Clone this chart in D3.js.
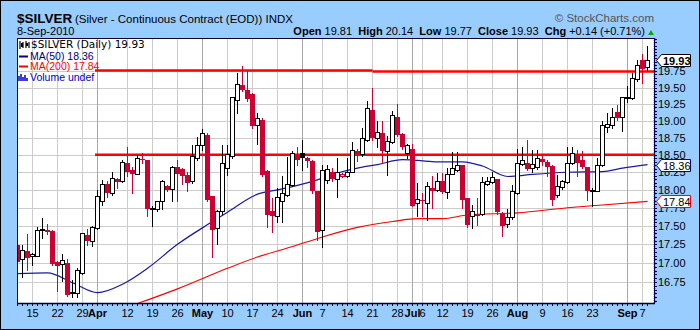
<!DOCTYPE html>
<html>
<head>
<meta charset="utf-8">
<script src="https://cdn.jsdelivr.net/npm/d3@7"></script>
<style>
body { margin: 0; background: #fff; }
svg { display: block; font-family: "Liberation Sans", Arial, sans-serif; }
</style>
</head>
<body>
<div id="chart"></div>
<script>
// daily candles, 10-Mar-2010 .. 8-Sep-2010 (one entry per trading day)
var opens = [17.24,17.05,17.16,17.10,17.10,17.44,17.45,17.43,17.01,16.99,17.00,16.60,16.60,16.87,17.38,17.29,17.47,17.85,18.09,17.96,
  18.16,18.12,18.38,18.28,18.23,18.44,18.42,17.73,17.74,17.84,18.06,18.01,18.32,18.29,18.21,18.12,18.45,18.64,18.79,17.91,
  17.47,17.70,18.31,18.48,19.31,19.54,19.47,19.40,18.94,19.01,18.27,17.70,17.63,17.85,17.93,18.07,18.50,18.52,18.46,18.41,
  17.98,17.44,18.14,18.26,18.16,18.20,18.19,18.26,18.56,18.51,18.72,19.16,18.74,18.82,18.55,18.69,19.06,18.80,18.53,18.59,
  17.81,17.86,17.81,18.02,18.00,18.12,17.97,18.23,18.28,18.35,17.88,17.63,17.67,17.67,18.09,18.11,18.15,17.67,17.53,17.62,
  17.95,18.37,18.38,18.31,18.32,18.44,18.40,18.34,17.93,18.04,18.11,18.38,18.50,18.42,18.32,17.99,17.99,18.35,18.91,18.94,
  19.13,19.05,19.34,19.34,19.63,19.92,19.81];
var highs = [17.26,17.24,17.39,17.13,17.48,17.61,17.53,17.44,17.03,17.12,17.06,16.78,16.93,17.41,17.46,17.50,18.00,18.14,18.12,18.25,
  18.17,18.43,18.62,18.33,18.50,18.52,18.43,17.78,17.85,18.14,18.07,18.34,18.43,18.31,18.26,18.64,18.76,18.88,18.82,17.91,
  17.72,18.64,18.64,19.36,19.72,19.83,19.75,19.41,19.12,19.04,18.28,17.89,18.02,18.20,18.47,18.55,18.62,18.72,18.47,18.42,
  17.99,18.36,18.36,18.31,18.45,18.24,18.45,18.69,18.59,18.89,19.29,19.49,18.99,18.99,18.77,19.15,19.25,18.82,18.66,18.66,
  18.10,17.95,18.11,18.19,18.24,18.24,18.31,18.54,18.54,18.36,17.89,17.79,17.88,18.18,18.18,18.26,18.16,17.69,17.74,18.07,
  18.59,18.61,18.71,18.57,18.57,18.50,18.43,18.36,18.21,18.14,18.62,18.62,18.57,18.55,18.33,18.02,18.46,18.99,19.12,19.19,
  19.24,19.36,19.52,19.72,19.93,20.02,20.14];
var lows = [17.00,16.82,16.91,16.98,17.09,17.34,17.39,16.98,16.63,16.76,16.57,16.56,16.56,16.86,17.24,17.23,17.46,17.79,17.90,17.93,
  18.02,18.11,18.20,17.95,18.22,18.38,17.63,17.50,17.70,17.73,17.98,17.85,17.84,18.09,17.98,18.10,18.43,18.57,17.84,17.08,
  17.26,17.67,18.21,18.46,19.11,19.44,19.29,18.90,18.66,18.19,17.49,17.42,17.56,17.56,17.92,18.05,18.36,18.28,18.33,17.95,
  17.31,17.22,18.10,18.12,17.90,18.18,18.18,18.25,18.41,18.49,18.70,18.72,18.62,18.38,18.21,18.67,18.77,18.59,18.45,17.77,
  17.63,17.63,17.58,17.75,17.98,17.95,17.88,18.22,18.27,17.75,17.49,17.47,17.51,17.65,18.07,18.10,17.67,17.36,17.49,17.60,
  17.94,18.35,18.28,18.26,18.30,18.36,18.20,17.79,17.90,18.01,18.10,18.37,18.19,18.31,17.86,17.77,17.98,18.34,18.84,18.89,
  19.01,18.85,19.28,19.32,19.60,19.57,19.77];
var closes = [17.02,17.18,17.07,17.12,17.45,17.46,17.42,16.99,16.96,17.04,16.58,16.62,16.91,17.40,17.30,17.49,17.92,18.09,17.96,18.17,
  18.11,18.40,18.25,18.23,18.46,18.42,17.74,17.75,17.84,18.12,18.00,18.33,18.23,18.19,18.10,18.49,18.64,18.82,17.86,17.45,
  17.70,18.38,18.51,19.35,19.56,19.47,19.33,18.92,19.04,18.21,17.65,17.63,17.90,17.95,18.08,18.52,18.42,18.46,18.41,17.98,
  17.42,18.28,18.30,18.16,18.25,18.22,18.26,18.57,18.51,18.74,19.19,18.74,18.84,18.55,18.70,19.09,18.79,18.62,18.64,17.78,
  17.87,17.84,18.05,17.98,18.12,17.97,18.23,18.31,18.36,17.86,17.51,17.70,17.64,18.11,18.12,18.18,17.69,17.50,17.62,17.98,
  18.38,18.42,18.30,18.37,18.46,18.40,18.33,17.86,18.05,18.12,18.38,18.53,18.38,18.32,17.99,18.00,18.35,18.94,18.95,19.06,
  19.04,19.35,19.36,19.65,19.85,19.79,19.93];

// moving averages read at some days (day index, value)
var ma50Days = [0, 6, 11, 16, 21, 26, 32, 39, 42, 48, 52, 59, 64, 68, 72, 77, 80, 84, 89, 93, 98, 103, 110, 117, 121, 126];
var ma50Vals = [16.86, 16.87, 16.74, 16.61, 16.72, 16.93, 17.25, 17.56, 17.69, 17.94, 18.00, 18.12, 18.24, 18.31, 18.36, 18.43, 18.42, 18.40, 18.40, 18.34, 18.19, 18.22, 18.25, 18.26, 18.31, 18.36];
var ma200Days = [20, 32, 42, 48, 55, 61, 68, 75, 80, 85, 90, 100, 110, 117, 126];
var ma200Vals = [16.38, 16.66, 16.93, 17.08, 17.22, 17.35, 17.48, 17.56, 17.60, 17.60, 17.65, 17.68, 17.75, 17.79, 17.84];

// hand drawn horizontal lines (start day, end day, price)
var trendStart = [15.5, 71, 15.5];
var trendEnd = [71, 128, 128];
var trendPrice = [19.76, 19.745, 18.50];

var firstDay = new Date(2010, 2, 10), lastDay = new Date(2010, 8, 8);
var holidays = ["2010-04-02", "2010-05-31", "2010-07-05", "2010-09-06"];

var yTicks = [16.75, 17.00, 17.25, 17.50, 17.75, 18.00, 18.25, 18.50, 18.75, 19.00, 19.25, 19.50, 19.75];
var xTickDates = ["2010-03-15","2010-03-22","2010-03-29","2010-04-01","2010-04-12","2010-04-19","2010-04-26","2010-05-03","2010-05-10",
  "2010-05-17","2010-05-24","2010-06-01","2010-06-07","2010-06-14","2010-06-21","2010-06-28","2010-07-01","2010-07-06","2010-07-12",
  "2010-07-19","2010-07-26","2010-08-02","2010-08-09","2010-08-16","2010-08-23","2010-09-01","2010-09-07"];
var xTickLabels = ["15","22","29","Apr","12","19","26","May","10","17","24","Jun","7","14","21","28","Jul","6","12","19","26","Aug","9","16","23","Sep","7"];

var lastClose = 19.93, ma50Last = 18.36, ma200Last = 17.84;

var w = 700, h = 330;
var pLeft = 17, pTop = 38, pRight = 655, pBottom = 304;

var fmt = d3.timeFormat("%Y-%m-%d");
var days = d3.timeDay.range(firstDay, d3.timeDay.offset(lastDay, 1)).filter(function(d) {
    return d.getDay() != 0 && d.getDay() != 6 && holidays.indexOf(fmt(d)) < 0;
});
var dayIndex = {};
days.forEach(function(d, i) { dayIndex[fmt(d)] = i; });

var svg = d3.select("#chart")
    .append("svg")
    .attr("width", w)
    .attr("height", h);

// blue frame
svg.append("rect")
    .attr("x", 0.5).attr("y", 0.5)
    .attr("width", w - 1).attr("height", h - 1)
    .style("fill", "#99ccff")
    .style("stroke", "#000");

svg.append("rect")
    .attr("x", pLeft).attr("y", pTop)
    .attr("width", pRight - pLeft).attr("height", pBottom - pTop)
    .style("fill", "#fff");

var x = d3.scaleLinear()
    .domain([0, days.length - 1])
    .range([17.5, 17.5 + 5 * (days.length - 1)]);

var y = d3.scaleLog()
    .domain([16.464, 20.27])
    .range([pBottom, pTop]);

svg.append("clipPath").attr("id", "clip")
    .append("rect")
    .attr("x", pLeft).attr("y", pTop)
    .attr("width", pRight - pLeft).attr("height", pBottom - pTop);

// grid
svg.selectAll("line.hgrid")
    .data(yTicks)
    .enter().append("line")
    .attr("class", "hgrid")
    .attr("x1", pLeft).attr("x2", pRight)
    .attr("y1", function(d) { return Math.round(y(d)) + 0.5; })
    .attr("y2", function(d) { return Math.round(y(d)) + 0.5; })
    .style("stroke", "#cccccc");

svg.selectAll("line.vgrid")
    .data(xTickDates)
    .enter().append("line")
    .attr("class", "vgrid")
    .attr("x1", function(d) { return Math.floor(x(dayIndex[d])) + 0.5; })
    .attr("x2", function(d) { return Math.floor(x(dayIndex[d])) + 0.5; })
    .attr("y1", pTop).attr("y2", pBottom)
    .style("stroke", function(d, i) { return isNaN(+xTickLabels[i]) ? "#a8a8a8" : "#cccccc"; });

var plot = svg.append("g").attr("clip-path", "url(#clip)");

// moving averages
plot.append("path")
    .datum(ma200Days)
    .attr("d", d3.line()
        .curve(d3.curveMonotoneX)
        .x(function(d) { return x(d); })
        .y(function(d, i) { return y(ma200Vals[i]); }))
    .style("fill", "none")
    .style("stroke", "#ff0000")
    .style("stroke-width", 1.1);

plot.append("path")
    .datum(ma50Days)
    .attr("d", d3.line()
        .curve(d3.curveMonotoneX)
        .x(function(d) { return x(d); })
        .y(function(d, i) { return y(ma50Vals[i]); }))
    .style("fill", "none")
    .style("stroke", "#1a1aa0")
    .style("stroke-width", 1.2);

// trend lines
plot.selectAll("line.trend")
    .data(trendPrice)
    .enter().append("line")
    .attr("class", "trend")
    .attr("x1", function(d, i) { return x(trendStart[i]); })
    .attr("x2", function(d, i) { return x(trendEnd[i]); })
    .attr("y1", function(d) { return y(d); })
    .attr("y2", function(d) { return y(d); })
    .style("stroke", "#ff0000")
    .style("stroke-width", 2.5);

// candles
var red = "#cc0033";
var candle = plot.selectAll("g.candle")
    .data(closes)
    .enter().append("g")
    .attr("class", "candle");

function candleColor(i) {
    var prev = i > 0 ? closes[i - 1] : opens[i];
    return closes[i] < prev ? red : "#000";
}

candle.append("line")
    .attr("x1", function(d, i) { return Math.floor(x(i)) + 0.5; })
    .attr("x2", function(d, i) { return Math.floor(x(i)) + 0.5; })
    .attr("y1", function(d, i) { return Math.round(y(highs[i])); })
    .attr("y2", function(d, i) { return Math.round(y(lows[i])) + 1; })
    .style("stroke", function(d, i) { return candleColor(i); });

candle.append("rect")
    .attr("x", function(d, i) {
        var px = Math.floor(x(i));
        return closes[i] < opens[i] ? px - 2 : px - 1.5;
    })
    .attr("width", function(d, i) { return closes[i] < opens[i] ? 5 : 4; })
    .attr("y", function(d, i) {
        var t = Math.round(y(Math.max(opens[i], closes[i])));
        return closes[i] < opens[i] ? t : t + 0.5;
    })
    .attr("height", function(d, i) {
        var t = Math.round(y(Math.max(opens[i], closes[i])));
        var b = Math.round(y(Math.min(opens[i], closes[i])));
        return Math.max(b - t, 1);
    })
    .style("fill", function(d, i) { return closes[i] < opens[i] ? candleColor(i) : "#fff"; })
    .style("stroke", function(d, i) { return closes[i] < opens[i] ? "none" : candleColor(i); })
    .style("stroke-width", 1);

// plot border and axes
svg.append("rect")
    .attr("x", pLeft + 0.5).attr("y", pTop + 0.5)
    .attr("width", pRight - pLeft - 1).attr("height", pBottom - pTop - 1)
    .style("fill", "none")
    .style("stroke", "#000033");

svg.append("line")
    .attr("x1", pRight - 0.5).attr("x2", pRight - 0.5)
    .attr("y1", pTop).attr("y2", pBottom)
    .style("stroke", "#000066")
    .style("stroke-width", 1.5)
    .style("stroke-dasharray", "1,1");

svg.append("line")
    .attr("x1", pLeft).attr("x2", pRight)
    .attr("y1", pBottom - 0.5).attr("y2", pBottom - 0.5)
    .style("stroke", "#000033")
    .style("stroke-width", 1.5);

// small day ticks under the axis
svg.selectAll("line.dtick")
    .data(days)
    .enter().append("line")
    .attr("class", "dtick")
    .attr("x1", function(d, i) { return Math.floor(x(i)) + 0.5; })
    .attr("x2", function(d, i) { return Math.floor(x(i)) + 0.5; })
    .attr("y1", pBottom).attr("y2", pBottom + 2)
    .style("stroke", "#000033");

// price ticks on right axis
svg.selectAll("line.ptick")
    .data(d3.range(16.5, 20.26, 0.05))
    .enter().append("line")
    .attr("class", "ptick")
    .attr("x1", pRight).attr("x2", pRight + 2)
    .attr("y1", function(d) { return Math.round(y(d)) + 0.5; })
    .attr("y2", function(d) { return Math.round(y(d)) + 0.5; })
    .style("stroke", "#000033");

svg.selectAll("text.ylab")
    .data(yTicks)
    .enter().append("text")
    .attr("class", "ylab")
    .attr("x", pRight + 3)
    .attr("y", function(d) { return y(d) + 4; })
    .style("font-size", "11px")
    .text(function(d) { return d.toFixed(2); });

svg.selectAll("text.xlab")
    .data(xTickDates)
    .enter().append("text")
    .attr("class", "xlab")
    .attr("x", function(d) { return x(dayIndex[d]); })
    .attr("y", 317)
    .style("text-anchor", "middle")
    .style("font-size", "11px")
    .style("font-weight", function(d, i) { return isNaN(+xTickLabels[i]) ? "bold" : "normal"; })
    .text(function(d, i) { return xTickLabels[i]; });

// value tags on the right axis
var tags = [
    {v: lastClose, c: "#000", bold: true},
    {v: ma50Last, c: "#000099", bold: false},
    {v: ma200Last, c: "#ff0000", bold: false}
];
var tag = svg.selectAll("g.tag")
    .data(tags)
    .enter().append("g")
    .attr("class", "tag")
    .attr("transform", function(d) { return "translate(0," + Math.round(y(d.v)) + ")"; });
tag.append("path")
    .attr("d", "M656.5,0.5 L661.5,-5.5 L690.5,-5.5 L690.5,6.5 L661.5,6.5 Z")
    .style("fill", "#fff")
    .style("stroke", function(d) { return d.c; });
tag.append("text")
    .attr("x", 663).attr("y", 5)
    .style("font-size", "11px")
    .style("font-weight", function(d) { return d.bold ? "bold" : "normal"; })
    .text(function(d) { return d.v.toFixed(2); });

// legend
var lg = svg.append("g");
lg.append("path")
    .attr("d", "M20,41 v8 M23,42 v6 M26,41 v7 M29,42 v6")
    .style("stroke", "#000").style("stroke-width", 1.2);
lg.append("rect").attr("x", 21).attr("y", 43).attr("width", 2).attr("height", 4).style("fill", "#000");
lg.append("rect").attr("x", 26).attr("y", 43).attr("width", 2).attr("height", 3).style("fill", "#000");
lg.append("text").attr("x", 31).attr("y", 48)
    .style("font-family", "'DejaVu Sans', Verdana, sans-serif")
    .style("font-size", "10.5px")
    .text("$SILVER (Daily) " + lastClose.toFixed(2));
lg.append("line").attr("x1", 19).attr("x2", 28).attr("y1", 56.5).attr("y2", 56.5)
    .style("stroke", "#000080").style("stroke-width", 2);
lg.append("text").attr("x", 30).attr("y", 60)
    .style("font-size", "10.5px").style("fill", "#000080")
    .text("MA(50) " + ma50Last.toFixed(2));
lg.append("line").attr("x1", 19).attr("x2", 28).attr("y1", 66.5).attr("y2", 66.5)
    .style("stroke", "#ff0000").style("stroke-width", 2);
lg.append("text").attr("x", 30).attr("y", 70)
    .style("font-size", "10.5px").style("fill", "#ff0000")
    .text("MA(200) " + ma200Last.toFixed(2));
lg.append("path")
    .attr("d", "M19,81 v-5 M21,81 v-7 M23,81 v-4 M25,81 v-6 M27,81 v-3")
    .style("stroke", "#0000cc").style("stroke-width", 1.5);
lg.append("text").attr("x", 30).attr("y", 81)
    .style("font-size", "10.5px").style("fill", "#0000cc")
    .text("Volume undef");

// header
svg.append("text")
    .attr("x", 17).attr("y", 23)
    .style("font-size", "13.5px").style("font-weight", "bold")
    .text("$SILVER");
svg.append("text")
    .attr("x", 75).attr("y", 23)
    .style("font-size", "11.5px")
    .text("(Silver - Continuous Contract (EOD)) INDX");
svg.append("text")
    .attr("x", 17).attr("y", 35)
    .style("font-size", "11px")
    .text("8-Sep-2010");
svg.append("text")
    .attr("x", 654).attr("y", 22)
    .style("text-anchor", "end")
    .style("font-size", "11.5px")
    .style("fill", "#555")
    .text("\u00a9 StockCharts.com");

var quote = [["Open", "19.81"], ["High", "20.14"], ["Low", "19.77"], ["Close", "19.93"], ["Chg", "+0.14 (+0.71%)"]];
var qt = svg.append("text")
    .attr("x", 645).attr("y", 35)
    .attr("xml:space", "preserve")
    .style("text-anchor", "end")
    .style("font-size", "11px");
quote.forEach(function(q, i) {
    qt.append("tspan").style("font-weight", "bold").text((i > 0 ? "  " : "") + q[0]);
    qt.append("tspan").text(" " + q[1]);
});
svg.append("path")
    .attr("d", "M648,35 L654,35 L651,30 Z")
    .style("fill", "#00aa00");
</script>
</body>
</html>
